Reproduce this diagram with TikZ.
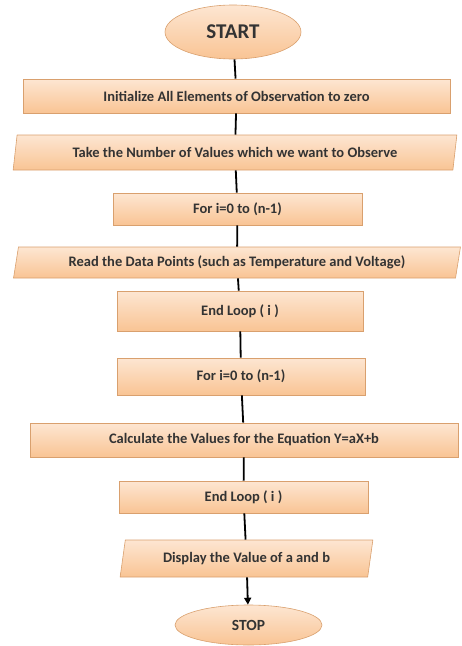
\documentclass[tikz,border=0pt]{standalone}
\usepackage{fontspec}
\setmainfont{Carlito}
\usetikzlibrary{shapes.geometric,arrows.meta}
\definecolor{peachtop}{HTML}{FDE6D2}
\definecolor{peachbot}{HTML}{F9C494}
\definecolor{peachline}{HTML}{D9A06E}
\tikzset{
  base/.style={draw=peachline, line width=0.6pt, top color=peachtop, bottom color=peachbot,
    font=\bfseries\fontsize{14.5}{16}\selectfont, text=black!80, inner sep=0pt},
  procbox/.style={base, rectangle},
  iobox/.style={base, trapezium, trapezium left angle=74, trapezium right angle=106,
    trapezium stretches=true},
  termbox/.style={base, ellipse},
  link/.style={line width=1.8pt, black},
}
\begin{document}
\begin{tikzpicture}[x=1pt,y=-1pt]
\useasboundingbox (0,0) rectangle (462,646);
\node[termbox, minimum width=136, minimum height=54, font=\bfseries\fontsize{21}{24}\selectfont] (start) at (233,32) {START};
\node[procbox, minimum width=427, minimum height=34] (init) at (236.5,96) {Initialize All Elements of Observation to zero};
\node[iobox, minimum width=444, minimum height=35] (take) at (235,152.5) {Take the Number of Values which we want to Observe};
\node[procbox, minimum width=249, minimum height=32] (for1) at (237.5,209) {For i=0 to (n-1)};
\node[iobox, minimum width=448, minimum height=31] (read) at (237,262.5) {Read the Data Points (such as Temperature and Voltage)};
\node[procbox, minimum width=246, minimum height=40] (end1) at (240,311) {End Loop ( i )};
\node[procbox, minimum width=248, minimum height=37] (for2) at (241,376.5) {For i=0 to (n-1)};
\node[procbox, minimum width=428, minimum height=34] (calc) at (244,440) {Calculate the Values for the Equation Y=aX+b};
\node[procbox, minimum width=249, minimum height=32] (end2) at (243.5,497) {End Loop ( i )};
\node[iobox, minimum width=253, minimum height=37] (disp) at (246.5,558.5) {Display the Value of a and b};
\node[termbox, minimum width=147, minimum height=40, font=\bfseries\fontsize{15.5}{17}\selectfont] (stop) at (248.5,625) {STOP};
\draw[link] (start) -- (init);
\draw[link] (init) -- (take);
\draw[link] (take) -- (for1);
\draw[link] (for1) -- (read);
\draw[link] (read) -- (end1);
\draw[link] (end1) -- (for2);
\draw[link] (for2) -- (calc);
\draw[link] (calc) -- (end2);
\draw[link] (end2) -- (disp);
\draw[link, -{Triangle[length=7pt,width=7pt]}] (disp) -- (stop);
\end{tikzpicture}
\end{document}
